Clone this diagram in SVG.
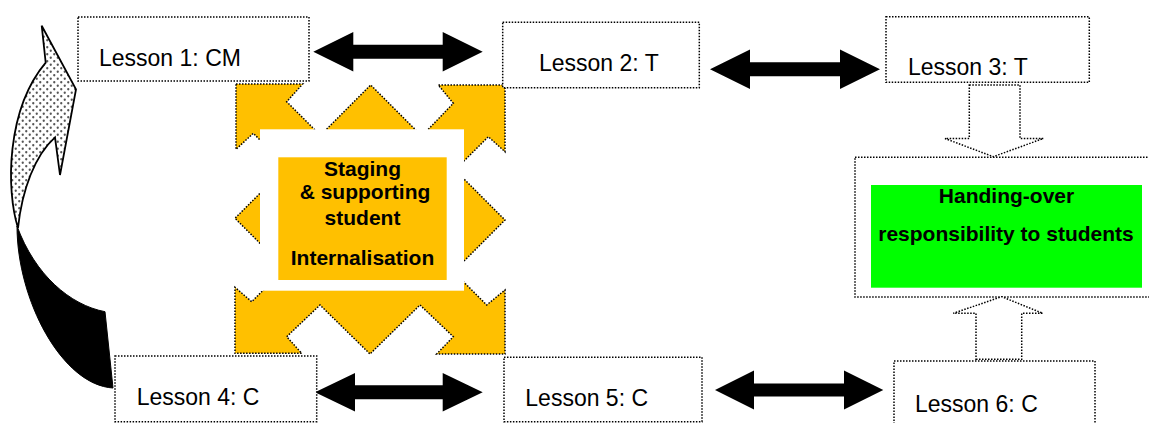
<svg xmlns="http://www.w3.org/2000/svg" width="1149" height="423" viewBox="0 0 1149 423">
  <defs>
    <pattern id="dots" width="7" height="7" patternUnits="userSpaceOnUse">
      <rect width="7" height="7" fill="#ffffff"/>
      <circle cx="1.75" cy="1.75" r="1.15" fill="#555"/>
      <circle cx="5.25" cy="5.25" r="1.15" fill="#555"/>
    </pattern>
    <style>
      .box { fill: #ffffff; stroke: #000; stroke-width: 1.5; stroke-dasharray: 1.5 1.5; }
      .dotline { stroke: #000; stroke-width: 1.5; stroke-dasharray: 1.5 1.5; }
      .lbl { font-family: "Liberation Sans", Arial, sans-serif; font-size: 23px; fill: #000; }
      .bold { font-family: "Liberation Sans", Arial, sans-serif; font-size: 21px; font-weight: bold; fill: #000; text-anchor: middle; }
      .dbl { fill: #000; }
    </style>
  </defs>
  <rect width="1149" height="423" fill="#ffffff"/>

  <g id="cycle-arrow">
    <path d="M 17,226 C 17,300 62,385 113,388 L 105,311.7 C 70,305 35,275 17,226 Z" fill="#000" stroke="#000" stroke-width="1"/>
    <path d="M 18,228 C 6,190 6,110 45.7,62.7 L 41.7,25.7 L 76,89.3 L 60,175 L 55,137.3 C 35,155 22,190 18,228 Z" fill="url(#dots)" stroke="#000" stroke-width="1.8" stroke-linejoin="miter"/>
  </g>

  <g id="staging">
    <polygon class="dotline" fill="#FFC000" points="236,84 302.7,84 286.7,101.7 320.4,135.4 370.7,85 421.8,136.1 453.3,103.3 438.3,85 505,85 505,151.7 488.3,136.7 455,170 505,220 453.4,271.7 486.7,305 505,290 505,354 436.7,354 453.3,336.7 420,305 370,354 320,305 286.7,336.7 301.7,353.3 235,353.3 235,287.3 251.7,301.7 285,268.4 235,218.3 286.7,166.7 253.3,133.3 236,149.3"/>
    <rect x="260" y="129.3" width="204" height="161.4" fill="#ffffff"/>
    <rect x="278.3" y="157.3" width="168.4" height="122.7" fill="#FFC000"/>
    <text class="bold" x="362.5" y="176">Staging</text>
    <text class="bold" x="365" y="199.3">&amp; supporting</text>
    <text class="bold" x="362.5" y="225">student</text>
    <text class="bold" x="362.5" y="265">Internalisation</text>
  </g>

  <g id="handover">
    <rect class="box" x="855" y="157.3" width="310" height="139.7"/>
    <rect x="871" y="185" width="271" height="102.7" fill="#00FF00"/>
    <text class="bold" x="1006.5" y="203.3">Handing-over</text>
    <text class="bold" x="1006" y="240.7">responsibility to students</text>
  </g>

  <g id="connectors">
    <polygon class="dbl" points="313.3,51.7 353.3,32 353.3,44.7 442.7,44.7 442.7,32 482.7,51.7 442.7,71.4 442.7,58.7 353.3,58.7 353.3,71.4"/>
    <polygon class="dbl" points="710,69.3 750,49.5 750,62.3 840,62.3 840,49.5 880,69.3 840,89.1 840,76.3 750,76.3 750,89.1"/>
    <polygon class="dbl" points="315,392.3 355,373 355,385.3 442.7,385.3 442.7,373 482.7,392.3 442.7,411.6 442.7,399.3 355,399.3 355,411.6"/>
    <polygon class="dbl" points="715,390 754,370.5 754,383.5 844,383.5 844,370.5 883.3,390 844,409.5 844,396.5 754,396.5 754,409.5"/>
    <polygon class="dotline" fill="#ffffff" points="969.3,85 1020,85 1020,138.5 1043.3,138.5 993.3,156.7 945,138.5 969.3,138.5"/>
    <polygon class="dotline" fill="#ffffff" points="976,359.3 1021.7,359.3 1021.7,313.3 1042.7,313.3 1001.7,296.7 953.3,313.3 976,313.3"/>
  </g>

  <g id="lesson1">
    <rect class="box" x="78" y="17" width="231" height="64"/>
    <text class="lbl" x="99" y="66">Lesson 1: CM</text>
  </g>
  <g id="lesson2">
    <rect class="box" x="502.7" y="22.3" width="196.6" height="65.4"/>
    <text class="lbl" x="539" y="71">Lesson 2: T</text>
  </g>
  <g id="lesson3">
    <rect class="box" x="886" y="16.7" width="203.3" height="65.6"/>
    <text class="lbl" x="908" y="75">Lesson 3: T</text>
  </g>
  <g id="lesson4">
    <rect class="box" x="115" y="356" width="201.7" height="65.7"/>
    <text class="lbl" x="136.7" y="405">Lesson 4: C</text>
  </g>
  <g id="lesson5">
    <rect class="box" x="504" y="357.3" width="198" height="64.4"/>
    <text class="lbl" x="525.3" y="405.7">Lesson 5: C</text>
  </g>
  <g id="lesson6">
    <rect class="box" x="894" y="361" width="201" height="72"/>
    <text class="lbl" x="915" y="411.7">Lesson 6: C</text>
  </g>
</svg>
